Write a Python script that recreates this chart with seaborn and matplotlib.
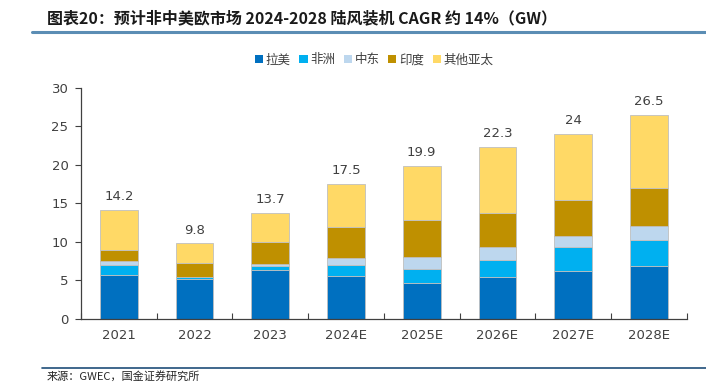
import numpy as np
import matplotlib
matplotlib.use("Agg")
import matplotlib.pyplot as plt
from matplotlib.lines import Line2D
from matplotlib.patches import Patch
import seaborn as sns

YEARS = ["2021", "2022", "2023", "2024E", "2025E", "2026E", "2027E", "2028E"]
LATAM = [5.75, 5.15, 6.3, 5.55, 4.7, 5.4, 6.2, 6.85]
AFRICA = [1.3, 0.3, 0.6, 1.5, 1.8, 2.3, 3.1, 3.4]
MIDEAST = [0.5, 0.05, 0.3, 0.85, 1.5, 1.6, 1.5, 1.8]
INDIA = [1.4, 1.8, 2.8, 4.0, 4.8, 4.5, 4.6, 5.0]
OTHER_APAC = [5.25, 2.5, 3.7, 5.6, 7.1, 8.5, 8.6, 9.45]
TOTALS = [14.2, 9.8, 13.7, 17.5, 19.9, 22.3, 24, 26.5]

SERIES = ("拉美", "非洲", "中东", "印度", "其他亚太")
COLOURS = ("#0070C0", "#00B0F0", "#BDD7EE", "#BF9000", "#FFD966")

sns.set_style("white")
plt.rcParams["font.family"] = ["Noto Sans CJK SC", "DejaVu Sans"]

fig = plt.figure(figsize=(7.06, 3.82), dpi=100)
ax = fig.add_axes([0.1147, 0.165, 0.858, 0.605])

bottom = np.zeros(len(YEARS))
for name, vals, col in zip(SERIES, (LATAM, AFRICA, MIDEAST, INDIA, OTHER_APAC), COLOURS):
    sns.barplot(
        x=YEARS, y=vals, bottom=bottom, color=col, saturation=1, width=0.5,
        errorbar=None, edgecolor="#BFBFBF", linewidth=0.6, ax=ax,
    )
    bottom += np.array(vals)

for i, tot in enumerate(TOTALS):
    ax.text(i, tot + 0.9, f"{tot:g}", ha="center", va="bottom", fontsize=9.5,
            color="#404040", family=["DejaVu Sans"])

ax.set_ylim(0, 30)
ax.set_xlim(-0.5, len(YEARS) - 0.5)
ax.set_yticks(np.arange(0, 31, 5))
ax.set_xlabel("")
ax.set_ylabel("")
ax.tick_params(axis="y", direction="out", length=4, width=0.8, color="#404040",
               labelsize=9.5, labelcolor="#404040", pad=5, left=True)
ax.tick_params(axis="x", which="major", length=0, labelsize=9.5, labelcolor="#404040", pad=7)
ax.set_xticks(np.arange(-0.5, len(YEARS)), minor=True)
ax.tick_params(axis="x", which="minor", direction="in", length=4, width=0.8,
               color="#404040", bottom=True)
for lbl in ax.get_xticklabels() + ax.get_yticklabels():
    lbl.set_family(["DejaVu Sans"])
sns.despine(ax=ax)
for s in ("left", "bottom"):
    ax.spines[s].set_color("#404040")
    ax.spines[s].set_linewidth(0.9)

handles = [Patch(facecolor=c, edgecolor="none") for c in COLOURS]
fig.legend(handles, SERIES, loc="center", bbox_to_anchor=(0.53, 0.843), ncol=5,
           frameon=False, fontsize=9, handlelength=0.65, handleheight=0.65,
           handletextpad=0.2, columnspacing=0.7, labelcolor="#404040")

fig.text(0.066, 0.952, "图表20：预计非中美欧市场 2024-2028 陆风装机 CAGR 约 14%（GW）",
         fontsize=11.5, fontweight="bold", style="italic", color="#1a1a1a", va="center")
fig.add_artist(Line2D([0.045, 1.0], [1 - 31.7 / 382] * 2, color="#5B8DB4", lw=2.2))
fig.add_artist(Line2D([0.059, 1.0], [1 - 368.3 / 382] * 2, color="#1F4E79", lw=1.2))
fig.text(0.066, 1 - 376 / 382, "来源：GWEC，国金证券研究所", fontsize=8,
         color="#262626", va="center")

fig.savefig("out.png", dpi=100)
